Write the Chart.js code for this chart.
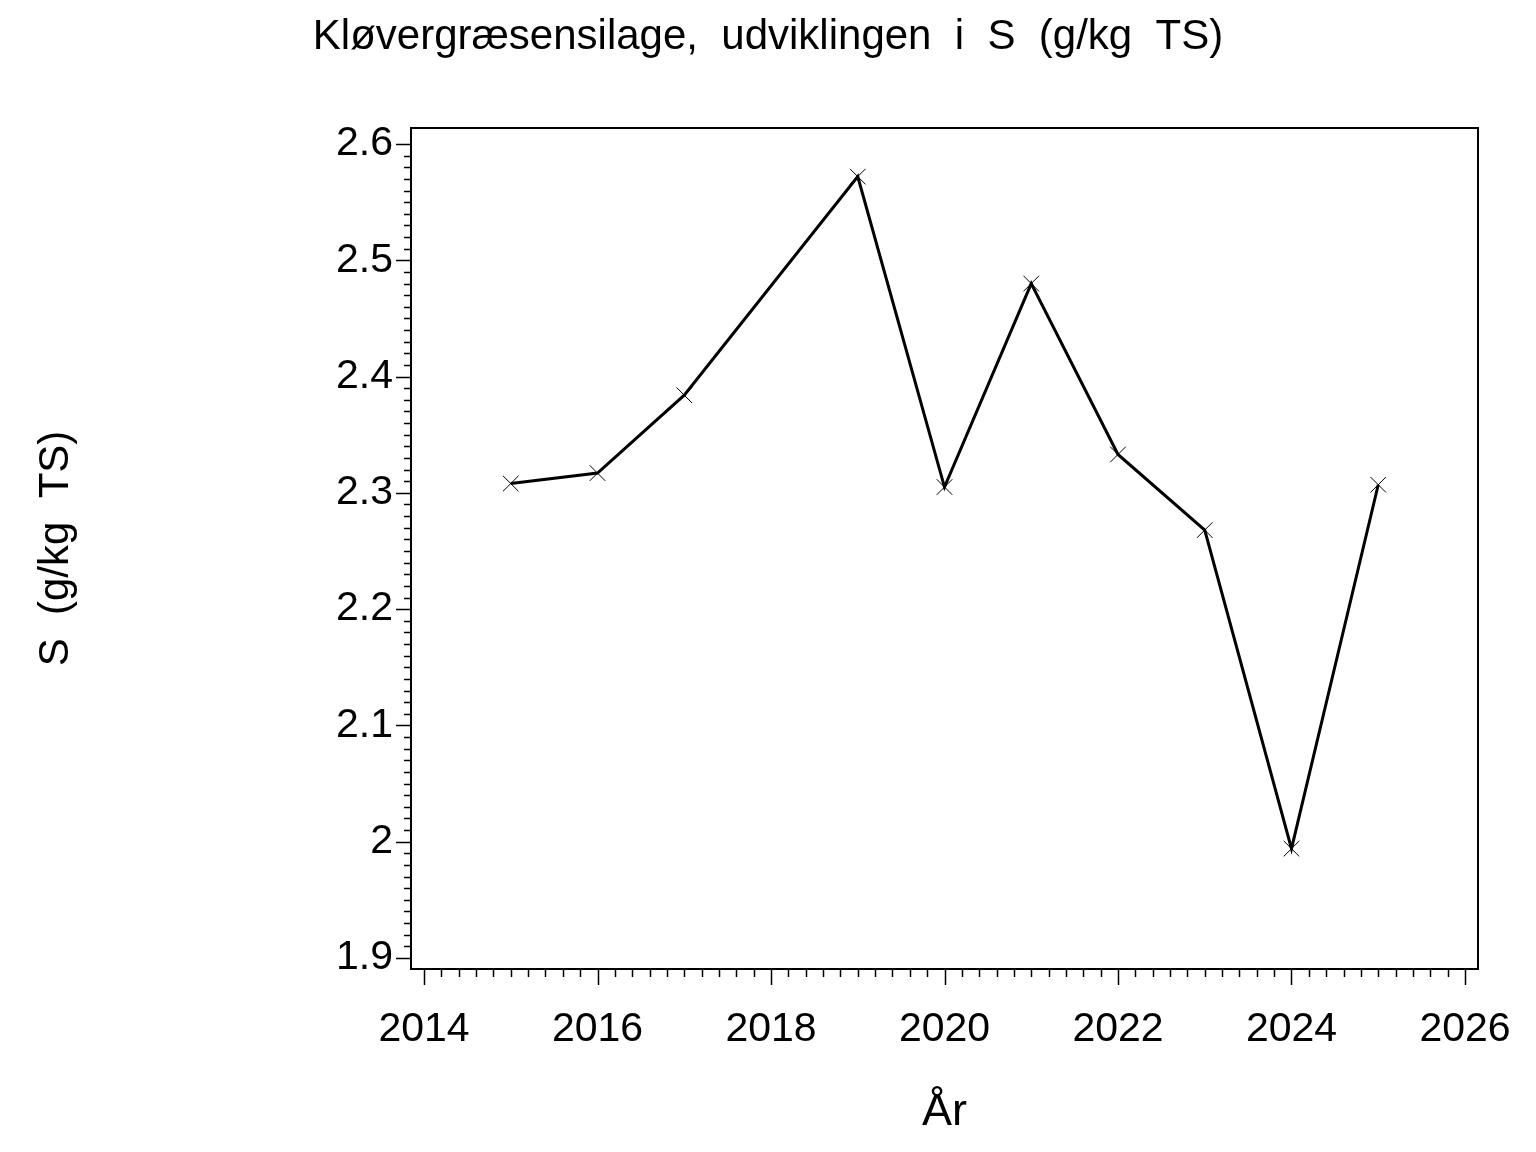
<!DOCTYPE html>
<html>
<head>
<meta charset="utf-8">
<style>
html,body{margin:0;padding:0;background:#fff;}
#wrap{position:relative;width:1536px;height:1152px;}
</style>
<script src="https://cdn.jsdelivr.net/npm/chart.js@4.4.1/dist/chart.umd.min.js"></script>
</head>
<body>
<div id="wrap"><canvas id="c" width="1536" height="1152"></canvas></div>
<script>
const years = [2015, 2016, 2017, 2019, 2020, 2021, 2022, 2023, 2024, 2025];
const sValues = [2.308, 2.317, 2.384, 2.572, 2.305, 2.480, 2.333, 2.268, 1.994, 2.307];
const xTickLabels = [2014, 2016, 2018, 2020, 2022, 2024, 2026];
const yTickLabels = [1.9, 2.0, 2.1, 2.2, 2.3, 2.4, 2.5, 2.6];
const titleText = 'Kløvergræsensilage,  udviklingen  i  S  (g/kg  TS)';
const yTitleText = 'S  (g/kg  TS)';
const xTitleText = 'År';

const FONT = '"Liberation Sans", Arial, Helvetica, sans-serif';

const tickPlugin = {
  id: 'sasTicks',
  afterDraw(chart) {
    const ctx = chart.ctx;
    const a = chart.chartArea;
    const xs = chart.scales.x, ys = chart.scales.y;
    ctx.save();
    ctx.strokeStyle = '#000';
    ctx.lineWidth = 2;
    ctx.strokeRect(a.left, a.top, a.right - a.left, a.bottom - a.top);
    ctx.lineWidth = 1.5;
    ctx.beginPath();
    const y0 = yTickLabels[0], y1 = yTickLabels[yTickLabels.length - 1];
    const nY = Math.round((y1 - y0) / 0.01);
    for (let i = 0; i <= nY; i++) {
      const v = y0 + i * 0.01;
      const p = Math.round(ys.getPixelForValue(v)) + 0.5;
      const len = (i % 10 === 0) ? 15 : 7;
      ctx.moveTo(a.left - len, p);
      ctx.lineTo(a.left, p);
    }
    const x0 = xTickLabels[0], x1 = xTickLabels[xTickLabels.length - 1];
    const nX = Math.round((x1 - x0) / 0.2);
    for (let i = 0; i <= nX; i++) {
      const v = x0 + i * 0.2;
      const p = Math.round(xs.getPixelForValue(v)) + 0.5;
      const len = (i % 10 === 0) ? 16 : 8;
      ctx.moveTo(p, a.bottom);
      ctx.lineTo(p, a.bottom + len);
    }
    ctx.stroke();
    ctx.restore();
  }
};

new Chart(document.getElementById('c'), {
  type: 'line',
  data: {
    datasets: [{
      data: years.map((y, i) => ({x: y, y: sValues[i]})),
      borderColor: '#000',
      borderWidth: 3,
      pointStyle: 'crossRot',
      pointRadius: 11,
      pointBorderWidth: 1,
      pointBorderColor: '#000',
      pointBackgroundColor: '#000',
      tension: 0,
      fill: false
    }]
  },
  options: {
    responsive: false,
    animation: false,
    devicePixelRatio: 1,
    layout: { padding: { left: 0, right: 0, top: 0, bottom: 0 } },
    plugins: {
      legend: { display: false },
      tooltip: { enabled: false },
      title: {
        display: true,
        text: titleText,
        color: '#000',
        font: { family: FONT, size: 42, weight: 'normal', lineHeight: 1.2 },
        padding: { top: 12, bottom: 65.6 }
      }
    },
    scales: {
      x: {
        type: 'linear',
        min: 2013.85,
        max: 2026.15,
        afterBuildTicks(scale) { scale.ticks = xTickLabels.map(v => ({value: v})); },
        afterFit(scale) { scale.height = 183; scale.paddingLeft = 0; scale.paddingRight = 0; },
        grid: { display: true, drawOnChartArea: false, drawTicks: false, color: 'rgba(0,0,0,0)' },
        border: { display: false },
        ticks: {
          color: '#000',
          font: { family: FONT, size: 41 },
          padding: 36,
          maxRotation: 0,
          autoSkip: false,
          callback: (v) => String(v)
        },
        title: {
          display: true,
          text: xTitleText,
          color: '#000',
          font: { family: FONT, size: 45 },
          padding: { top: 12, bottom: 12 }
        }
      },
      y: {
        type: 'linear',
        min: 1.8905,
        max: 2.6138,
        afterBuildTicks(scale) { scale.ticks = yTickLabels.map(v => ({value: v})); },
        afterFit(scale) { scale.width = 411; scale.paddingTop = 0; scale.paddingBottom = 0; },
        grid: { display: true, drawOnChartArea: false, drawTicks: false, color: 'rgba(0,0,0,0)' },
        border: { display: false },
        ticks: {
          color: '#000',
          font: { family: FONT, size: 41 },
          padding: 18,
          autoSkip: false,
          callback: (v) => String(Math.round(v * 10) / 10)
        },
        title: {
          display: true,
          text: yTitleText,
          color: '#000',
          font: { family: FONT, size: 42 },
          padding: { top: 31, bottom: 31 }
        }
      },
      rightSpace: {
        type: 'linear',
        position: 'right',
        display: true,
        afterFit(scale) { scale.width = 58; scale.paddingTop = 0; scale.paddingBottom = 0; },
        grid: { display: false, drawTicks: false },
        border: { display: false },
        ticks: { display: false }
      }
    }
  },
  plugins: [tickPlugin]
});
</script>
</body>
</html>
